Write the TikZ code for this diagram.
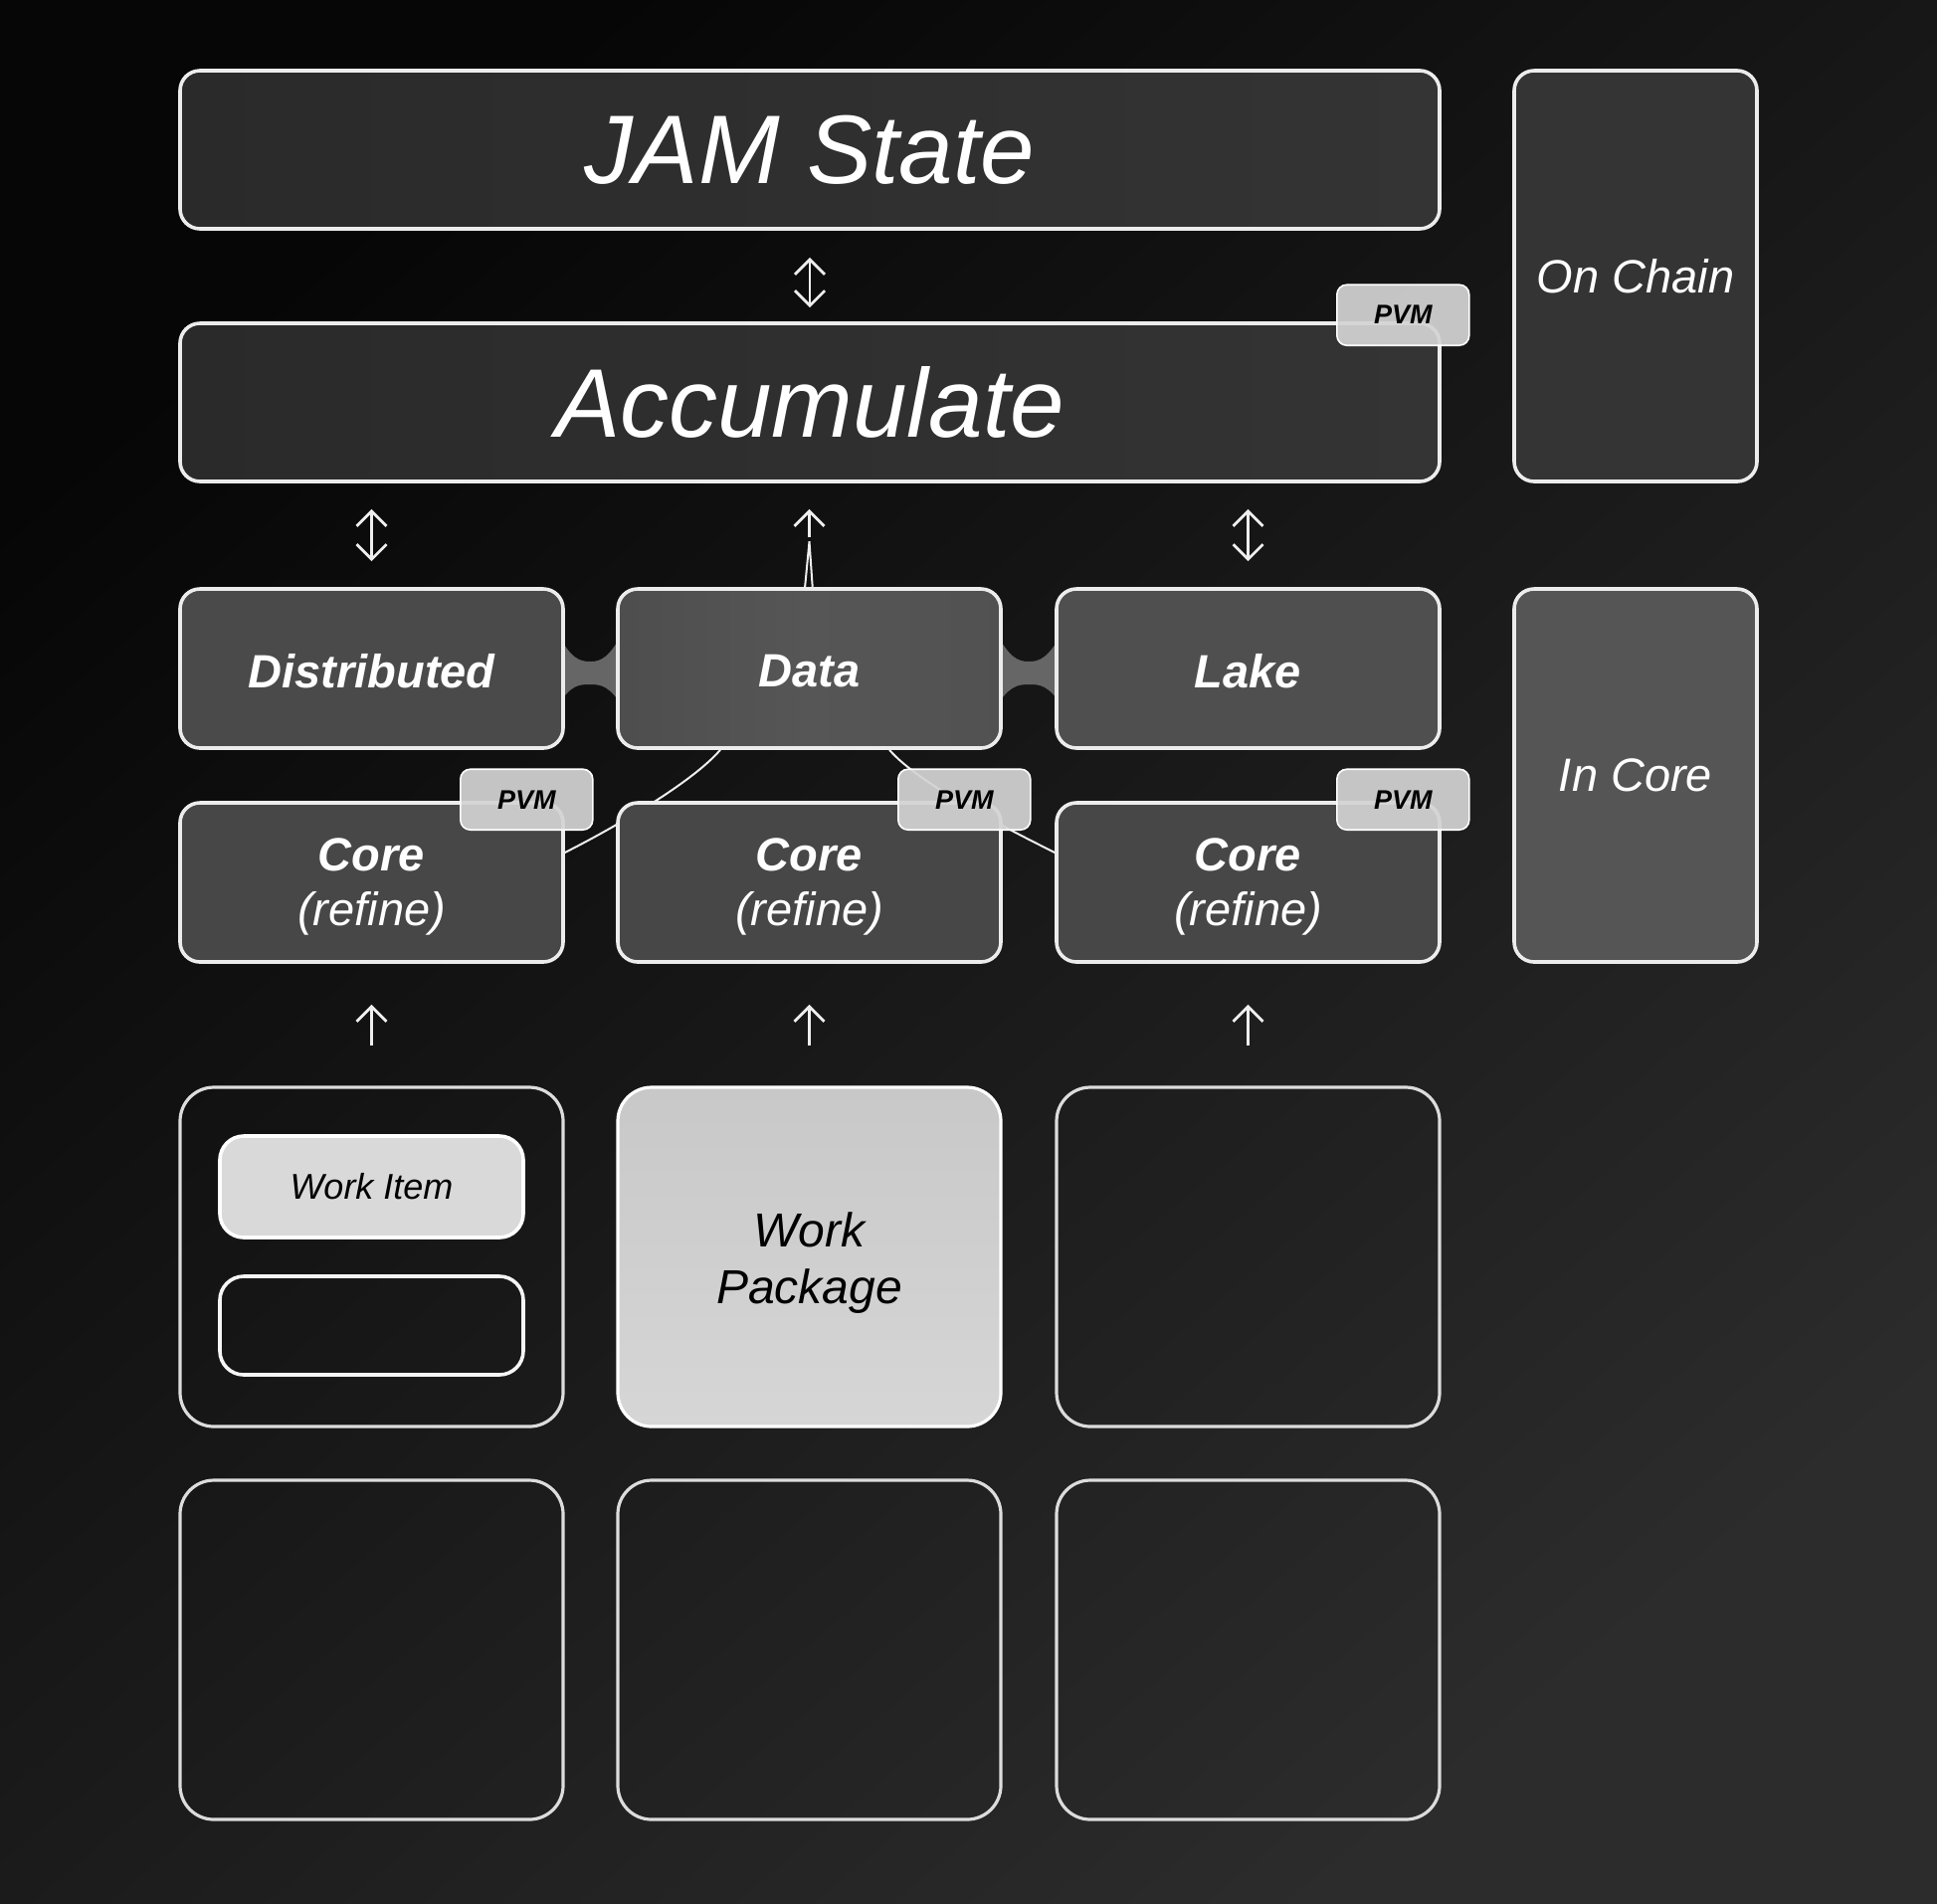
\documentclass[tikz,border=0pt]{standalone}
\usepackage{fontspec}
\setmainfont{Liberation Sans}
\usetikzlibrary{arrows.meta,calc}
\pgfdeclarelayer{bg}
\pgfsetlayers{bg,main}
\newcommand{\fsz}[2]{\fontsize{#1}{#2}\selectfont}
\definecolor{bgA}{HTML}{060606}
\definecolor{bgB}{HTML}{2C2C2C}
\definecolor{edge}{HTML}{ECECEC}
\definecolor{topL}{HTML}{2A2A2A}
\definecolor{topR}{HTML}{343434}
\definecolor{chain}{HTML}{343434}
\definecolor{midfill}{HTML}{4A4A4A}
\definecolor{midglow}{HTML}{565656}
\definecolor{corefill}{HTML}{474747}
\definecolor{incore}{HTML}{555555}
\definecolor{badgefill}{HTML}{D4D4D4}
\definecolor{lightfill}{HTML}{D9D9D9}
\definecolor{pkgtop}{HTML}{C8C8C8}
\definecolor{pkgbot}{HTML}{D6D6D6}
\definecolor{outl}{HTML}{DCDCDC}
\definecolor{bridgec}{HTML}{666666}
\definecolor{arrowc}{HTML}{EEEEEE}
\begin{document}
\begin{tikzpicture}[x=0.5pt,y=-0.5pt,
  box/.style={draw=edge, line width=1.8pt, rounded corners=10pt, inner sep=0pt, text=white, align=center},
  wide/.style={box, minimum width=633pt, minimum height=79.5pt, font=\fsz{49}{58}\itshape},
  cell/.style={box, minimum width=192.5pt, minimum height=80pt, fill=midfill},
  celltxt/.style={font=\fsz{23.5}{28}\bfseries\itshape, text=white},
  coretxt/.style={font=\fsz{23.5}{27.5}\itshape, text=white, align=center, inner sep=0pt},
  side/.style={box, minimum width=122pt, font=\fsz{23.5}{28}\itshape},
  hollow/.style={draw=outl, line width=1.6pt, rounded corners=17pt, minimum width=192.5pt, minimum height=170.5pt, inner sep=0pt, align=center},
  badge/.style={draw=white, fill=badgefill, fill opacity=0.92, text opacity=1, line width=0.8pt, rounded corners=5pt, minimum width=66.5pt, minimum height=30.5pt, inner sep=0pt, text=black, font=\fsz{13.5}{16}\bfseries\itshape},
  arr/.style={draw=arrowc, line width=1.4pt, >={Straight Barb[length=7.5pt,width=15pt]}},
]
\begin{pgfonlayer}{bg}
\shade[top color=bgA, bottom color=bgB, shading angle=40] (0,0) rectangle (1947,1913);
\end{pgfonlayer}
\useasboundingbox (0,0) rectangle (1947,1913);

% on-chain row
\node[wide, left color=topL, right color=topR] (jam) at (814,150.5) {JAM State};
\node[wide, left color=topL, right color=topR] (acc) at (814,404.5) {Accumulate};
\node[side, fill=chain, minimum height=206.5pt] (chain) at (1644,277.5) {On Chain};

% data lake row
\node[cell] (dist) at (373.5,672) {};
\node[cell, left color=midfill!98!white, right color=midfill!96!white, middle color=midglow] (data) at (813.5,672) {};
\node[cell, fill=midfill!97!white] (lake) at (1254.5,672) {};
\node[celltxt] (distT) at ($(dist)+(0,3)$) {Distributed};
\node[celltxt] (dataT) at ($(data)+(0,3)$) {Data};
\node[celltxt] (lakeT) at ($(lake)+(0,3)$) {Lake};

% core row
\foreach \i/\x in {1/373.5,2/813.5,3/1254.5}{
  \node[cell, fill=corefill] (core\i) at (\x,887) {};
  \node[coretxt] (core\i T) at ($(core\i)+(0,4)$) {{\bfseries Core}\\(refine)};
}
\node[side, fill=incore, minimum height=187.5pt] (incore) at (1644,779.5) {In Core};

% work packages
\node[hollow] (w1) at (373.5,1263.5) {};
\node[hollow, draw=white, top color=pkgtop, bottom color=pkgbot] (w2) at (813.5,1263.5) {};
\node[text=black, font=\fsz{24}{28.5}\itshape, align=center, inner sep=0pt] (w2T) at ($(w2)+(0,6)$) {Work\\Package};
\node[hollow] (w3) at (1254.5,1263.5) {};
\node[hollow] (b1) at (373.5,1658.5) {};
\node[hollow] (b2) at (813.5,1658.5) {};
\node[hollow] (b3) at (1254.5,1658.5) {};
\node[box, draw=white, fill=lightfill, minimum width=152.5pt, minimum height=51pt, rounded corners=12pt, text=black, font=\fsz{18}{22}\itshape] (item) at (373.5,1193) {Work Item};
\node[box, draw=white!92!gray, minimum width=152.5pt, minimum height=49.5pt, rounded corners=12pt] (slot) at (373.5,1332.5) {};

% PVM badges
\node[badge] (pvmA) at ($(acc.north east)+(-38.5,-6.5)$) {PVM};
\node[badge] (pvm1) at ($(core1.north east)+(-38.5,-1.5)$) {PVM};
\node[badge] (pvm2) at ($(core2.north east)+(-38.5,-1.5)$) {PVM};
\node[badge] (pvm3) at ($(core3.north east)+(-38.5,-1.5)$) {PVM};

% bridges and links behind boxes
\begin{pgfonlayer}{bg}
\fill[bridgec] (560,636) .. controls (574,662) and (582,665) .. (593.5,665)
  .. controls (605,665) and (613,660) .. (627,634) -- (627,712)
  .. controls (613,690) and (605,688) .. (593.5,688)
  .. controls (582,688) and (574,688) .. (560,710) -- cycle;
\fill[bridgec] (1000,634) .. controls (1014,660) and (1022,665) .. (1034,665)
  .. controls (1045,665) and (1053,662) .. (1068,636) -- (1068,710)
  .. controls (1053,688) and (1045,688) .. (1034,688)
  .. controls (1022,688) and (1014,690) .. (1000,712) -- cycle;
\draw[arr, line width=1pt] ([xshift=-44.75pt]data.south) .. controls +(-30,35) and +(40,-20) .. ([yshift=15pt]core1.east);
\draw[arr, line width=1pt] ([xshift=40.25pt]data.south) .. controls +(30,35) and +(-40,-20) .. ([yshift=15pt]core3.west);
\end{pgfonlayer}

% arrows
\draw[arr, <->, shorten <=13.5pt, shorten >=7pt] (jam.south) -- (acc.north);
\draw[arr, <->, shorten <=13pt, shorten >=13pt] (acc.south -| dist.north) -- (dist.north);
\draw[arr, <->, shorten <=13pt, shorten >=13pt] (acc.south -| lake.north) -- (lake.north);
\coordinate (fork) at ($(data.north)+(0,-46)$);
\draw[arr, ->, shorten >=13pt] ($(fork)+(0,-4)$) -- (acc.south -| fork);
\draw[arr, line width=1pt] ([xshift=-2.2pt]data.north) -- (fork) -- ([xshift=1.6pt]data.north);
\foreach \i in {1,2,3}
  \draw[arr, ->, shorten <=20pt, shorten >=20.5pt] (w\i.north) -- (core\i.south);
\end{tikzpicture}
\end{document}
